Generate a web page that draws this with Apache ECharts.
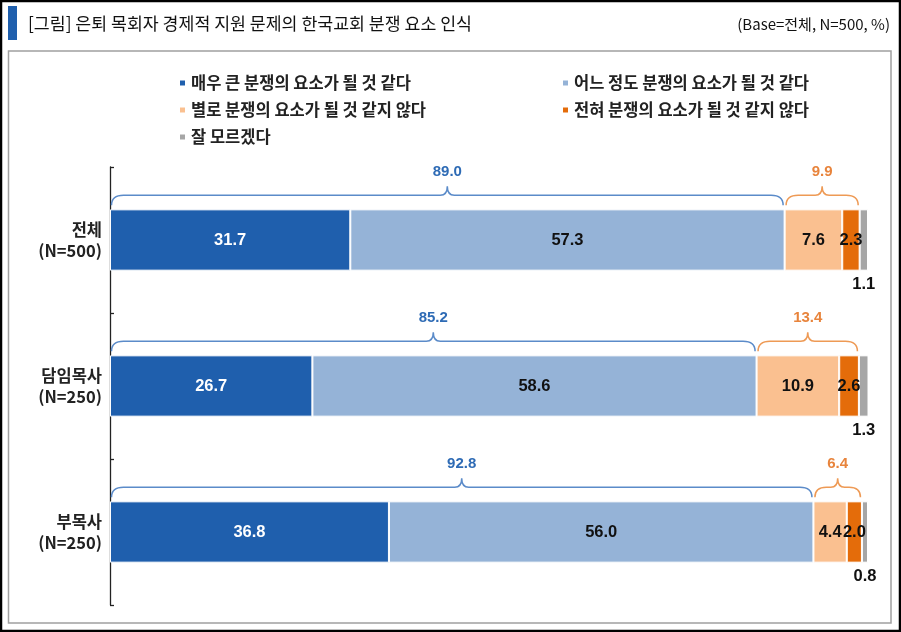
<!DOCTYPE html>
<html><head><meta charset="utf-8">
<script src="https://cdn.jsdelivr.net/npm/echarts@6/dist/echarts.min.js"></script>
<style>html,body{margin:0;padding:0;background:#fff}#c{width:901px;height:632px}</style>
</head><body><div id="c"></div>
<script>
const categories = ['전체\n(N=500)', '담임목사\n(N=250)', '부목사\n(N=250)'];
const seriesNames = ['매우 큰 분쟁의 요소가 될 것 같다', '어느 정도 분쟁의 요소가 될 것 같다', '별로 분쟁의 요소가 될 것 같지 않다', '전혀 분쟁의 요소가 될 것 같지 않다', '잘 모르겠다'];
const veryLikely = [31.7, 26.7, 36.8];
const somewhatLikely = [57.3, 58.6, 56.0];
const notVeryLikely = [7.6, 10.9, 4.4];
const notAtAllLikely = [2.3, 2.6, 2.0];
const dontKnow = [1.1, 1.3, 0.8];
const likelyTotals = [89.0, 85.2, 92.8];
const unlikelyTotals = [9.9, 13.4, 6.4];

const colors = ['#1F5FAD', '#95B3D7', '#FAC090', '#E46C0A', '#A6A6A6'];
const labelColors = ['#ffffff', '#111111', '#111111', '#111111', '#111111'];
const values = [veryLikely, somewhatLikely, notVeryLikely, notAtAllLikely, dontKnow];
const BAR_RATIO = 0.42;
const numFont = 'Liberation Sans, Arial, sans-serif';
const krFont = 'Noto Sans CJK KR, sans-serif';

const bars = values.map((vals, i) => ({
  name: seriesNames[i], type: 'bar', stack: 'all', barWidth: (BAR_RATIO * 100) + '%',
  data: vals,
  itemStyle: { color: colors[i], borderColor: '#ffffff', borderWidth: 1 },
  label: {
    show: true,
    position: i === 4 ? 'bottom' : 'inside',
    distance: 5,
    formatter: p => p.value.toFixed(1),
    color: labelColors[i], fontWeight: 'bold', fontSize: 16.5, fontFamily: numFont
  },
  emphasis: { disabled: true }
}));

// brace data: [start, end, categoryIndex]
const braceBlue = categories.map((c, k) => [0, veryLikely[k] + somewhatLikely[k], k]);
const braceOrange = categories.map((c, k) => {
  const s = veryLikely[k] + somewhatLikely[k];
  return [s, s + notVeryLikely[k] + notAtAllLikely[k], k];
});

function braceSeries(data, totals, lineColor, textColor) {
  return {
    type: 'custom', coordinateSystem: 'cartesian2d', silent: true, clip: false, z: 10,
    encode: { x: [0, 1], y: 2 },
    data: data,
    renderItem: function (params, api) {
      const s = api.value(0), e = api.value(1), ci = api.value(2);
      const p0 = api.coord([s, ci]), p1 = api.coord([e, ci]);
      const band = api.size([0, 1])[1];
      const barTop = p0[1] - band * BAR_RATIO / 2;
      const yLine = barTop - 14, yEnd = barTop - 4, yPeak = yLine - 9;
      const x0 = p0[0] + 1.5, x1 = p1[0] - 1.5, xm = (x0 + x1) / 2;
      const re = Math.min(12, (x1 - x0) / 4), rm = 7;
      const d = `M${x0},${yEnd} Q${x0},${yLine} ${x0 + re},${yLine} L${xm - rm},${yLine} Q${xm},${yLine} ${xm},${yPeak} Q${xm},${yLine} ${xm + rm},${yLine} L${x1 - re},${yLine} Q${x1},${yLine} ${x1},${yEnd}`;
      return {
        type: 'group', children: [
          { type: 'path', shape: { pathData: d }, style: { fill: null, stroke: lineColor, lineWidth: 1.5 } },
          { type: 'text', x: xm, y: yPeak - 7, style: { text: totals[params.dataIndex].toFixed(1), textAlign: 'center', textVerticalAlign: 'bottom', fill: textColor, font: 'bold 15px ' + numFont } }
        ]
      };
    }
  };
}

const legendText = { fontSize: 16.5, fontWeight: 'bold', color: '#222', fontFamily: krFont, lineHeight: 18 };
const chart = echarts.init(document.getElementById('c'));
chart.setOption({
  animation: false,
  legend: [
    { data: [seriesNames[0], seriesNames[2], seriesNames[4]], orient: 'vertical', left: 173, top: 69, itemWidth: 7, itemHeight: 7, itemGap: 9, icon: 'rect', textStyle: legendText, selectedMode: false },
    { data: [seriesNames[1], seriesNames[3]], orient: 'vertical', left: 556, top: 69, itemWidth: 7, itemHeight: 7, itemGap: 9, icon: 'rect', textStyle: legendText, selectedMode: false }
  ],
  grid: { left: 110, right: 33, top: 167, bottom: 27, containLabel: false },
  xAxis: { type: 'value', min: 0, max: 100, show: false },
  yAxis: {
    type: 'category', data: categories, inverse: true,
    axisLine: { show: true, lineStyle: { color: '#222', width: 1.3 } },
    axisTick: { show: true, inside: true, length: 4, lineStyle: { color: '#222', width: 1.3 } },
    axisLabel: { fontSize: 16.5, fontWeight: 'bold', color: '#222', fontFamily: krFont, lineHeight: 21, margin: 8, align: 'right' }
  },
  graphic: [
    { type: 'rect', shape: { x: 1, y: 1, width: 899, height: 630 }, style: { fill: null, stroke: '#000', lineWidth: 2.5 }, silent: true },
    { type: 'rect', shape: { x: 8, y: 6, width: 9, height: 34 }, style: { fill: '#1F5FAD' }, silent: true },
    { type: 'text', x: 28, y: 23, style: { text: '[그림] 은퇴 목회자 경제적 지원 문제의 한국교회 분쟁 요소 인식', font: '17.3px ' + krFont, fill: '#111', textVerticalAlign: 'middle' }, silent: true },
    { type: 'text', x: 890, y: 24, style: { text: '(Base=전체, N=500, %)', font: '15px ' + krFont, fill: '#111', textAlign: 'right', textVerticalAlign: 'middle' }, silent: true },
    { type: 'rect', shape: { x: 8.5, y: 51, width: 882.5, height: 572 }, style: { fill: null, stroke: '#A0A0A0', lineWidth: 1.5 }, silent: true }
  ],
  series: bars.concat([braceSeries(braceBlue, likelyTotals, '#5B8BC9', '#2E6BB5'), braceSeries(braceOrange, unlikelyTotals, '#EE9A55', '#E8843C')])
});
</script></body></html>
